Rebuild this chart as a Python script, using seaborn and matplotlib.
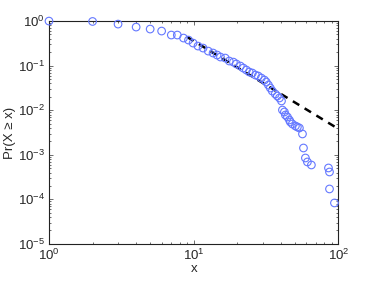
import seaborn as sns
import pandas as pd
import matplotlib.pyplot as plt

x_vals = [1.0, 2.0, 3.0, 4.0, 5.0, 6.0, 7.0, 7.7, 8.5, 9.2, 9.9, 10.7, 11.6, 12.6,
          13.6, 14.5, 15.3, 16.5, 17.6, 18.8, 19.7, 21.0, 22.0, 23.1, 24.2, 25.4,
          26.7, 27.9, 29.3, 30.8, 31.7, 32.8, 33.8, 34.9, 36.6, 37.8, 39.1, 40.4,
          41.0, 42.3, 43.0, 44.4, 45.8, 46.5, 48.0, 50.4, 52.0, 53.7, 56.4, 57.3,
          59.1, 61.0, 65.0, 85.3, 86.7, 86.7, 93.8]
pr_vals = [1.0, 0.98, 0.856, 0.734, 0.662, 0.597, 0.486, 0.486, 0.416, 0.375, 0.321,
           0.275, 0.248, 0.212, 0.192, 0.173, 0.156, 0.148, 0.127, 0.120, 0.109,
           0.098, 0.0883, 0.0797, 0.0719, 0.0683, 0.0615, 0.0585, 0.0527, 0.0475,
           0.0429, 0.0367, 0.0315, 0.0269, 0.0231, 0.0208, 0.0188, 0.0161, 0.0101,
           0.00912, 0.0078, 0.00704, 0.00603, 0.00544, 0.00491, 0.00443, 0.0042,
           0.00399, 0.00293, 0.00142, 0.000847, 0.00069, 0.00059, 0.000506,
           0.000411, 0.000171, 0.000083]

# power-law fit (dashed)
fit_x = [9, 100]
fit_y = [0.44, 0.0038]

sns.set_style("ticks")
plt.rcParams['font.family'] = ['Liberation Sans', 'DejaVu Sans']

df = pd.DataFrame({"x": x_vals, "pr": pr_vals})
fit = pd.DataFrame({"x": fit_x, "pr": fit_y})

fig = plt.figure(figsize=(3.74, 2.81), dpi=100)
ax = fig.add_axes([0.131, 0.132, 0.774, 0.793])

sns.scatterplot(data=df, x="x", y="pr", ax=ax, marker="o", s=30,
                facecolor="none", edgecolor="#6478ff", linewidth=0.8, zorder=3,
                clip_on=False)
sns.lineplot(data=fit, x="x", y="pr", ax=ax, color="black", linewidth=1.8,
             zorder=2)
ax.lines[-1].set_linestyle((0, (3, 2.5)))

ax.set_xscale("log")
ax.set_yscale("log")
ax.set_xlim(1, 100)
ax.set_ylim(1e-5, 1)
ax.set_xlabel("x", fontsize=9.5, labelpad=0)
ax.set_ylabel("Pr(X ≥ x)", fontsize=9.5, labelpad=1)

ax.tick_params(which="both", direction="in", top=True, right=True, labelsize=9.5,
               width=0.5, color="#333333", pad=3)
ax.tick_params(which="major", length=3)
ax.tick_params(which="minor", length=1.5)
for s in ax.spines.values():
    s.set_linewidth(0.8)
    s.set_color("#222222")

fig.savefig("out.png", dpi=100)
